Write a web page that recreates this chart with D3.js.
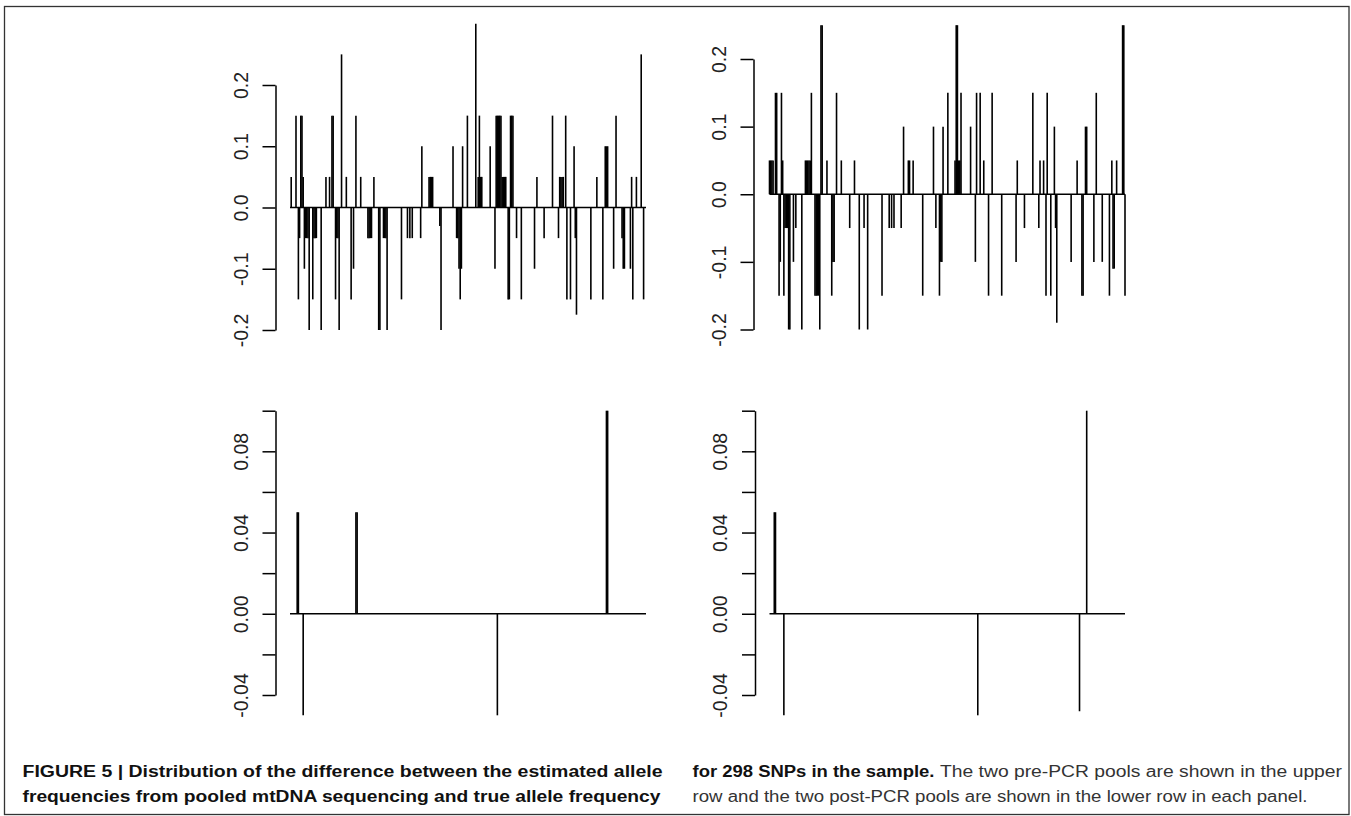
<!DOCTYPE html>
<html>
<head>
<meta charset="utf-8">
<script src="https://cdn.jsdelivr.net/npm/d3@7"></script>
<style>
  body { margin: 0; background: #fff; }
  .bar, .base { stroke: #000; stroke-width: 1.6; }
  .axis path, .axis line { stroke: #000; stroke-width: 1.5; fill: none; }
  .axis text { font-family: "Liberation Sans", Arial, sans-serif; font-size: 19.5px; fill: #222; }
  .cap { font-family: "Liberation Sans", Arial, sans-serif; font-size: 16px; }
</style>
</head>
<body>
<svg id="fig" width="1351" height="816"></svg>
<script>
// number of SNPs on the x axis
var nSnp = 298;

// pre-PCR pool 1 (upper left): SNP index, difference in allele frequency
var preIdx1 = [2, 6, 8, 9, 10, 11, 12, 13, 14, 15, 16, 17, 20, 21, 22, 23, 27, 31, 34, 36, 37, 39, 40, 41, 42, 44,
  48, 52, 54, 56, 60, 66, 67, 68, 69, 71, 75, 76, 79, 80, 81, 82, 94, 99, 101, 103, 110, 111, 117, 118, 119, 120,
  126, 127, 137, 140, 141, 142, 143, 144, 145, 149, 156, 158, 159, 160, 161, 168, 172, 173, 174, 175, 176, 177,
  178, 179, 180, 181, 183, 184, 185, 186, 187, 190, 194, 205, 207, 213, 220, 225, 226, 227, 228, 229, 231, 232,
  235, 238, 239, 240, 252, 257, 262, 264, 265, 266, 271, 273, 278, 279, 280, 285, 286, 287, 290, 294, 296];
var preVal1 = [0.05, 0.15, -0.15, -0.05, 0.15, 0.15, 0.05, -0.1, -0.05, -0.05, -0.05, -0.2, -0.15, -0.05, -0.05, -0.05, -0.2, 0.05, 0.05, 0.15, 0.15, -0.15, -0.05, -0.05, -0.2, 0.25,
  0.05, -0.15, -0.1, 0.15, 0.05, -0.05, -0.05, -0.05, -0.05, 0.05, -0.2, -0.2, -0.05, -0.05, -0.05, -0.2, -0.15, -0.05, -0.05, -0.05, -0.05, 0.1, 0.05, 0.05, 0.05, 0.05,
  -0.03, -0.2, 0.1, -0.05, -0.05, -0.1, -0.15, -0.1, 0.1, 0.15, 0.3, 0.05, 0.15, 0.05, 0.05, 0.1, -0.1, 0.15, 0.15, 0.15, 0.15, 0.15,
  0.05, 0.05, 0.05, 0.05, -0.15, -0.15, 0.15, 0.15, 0.15, -0.05, -0.15, -0.1, 0.05, -0.05, 0.15, -0.05, 0.05, 0.05, 0.05, 0.05, 0.15, -0.15,
  -0.15, 0.1, -0.05, -0.175, -0.15, 0.05, -0.15, 0.1, 0.1, 0.1, -0.1, 0.15, -0.05, -0.1, -0.1, -0.1, 0.05, -0.15, 0.05, 0.25, -0.15];

// pre-PCR pool 2 (upper right)
var preIdx2 = [1, 2, 3, 4, 6, 7, 9, 10, 11, 12, 13, 14, 15, 16, 17, 18, 21, 23, 28, 31, 32, 33, 34, 35, 36,
  39, 40, 41, 42, 43, 44, 45, 49, 53, 54, 55, 57, 61, 68, 72, 76, 80, 83, 95, 101, 103, 105, 111, 113, 117, 118,
  121, 129, 138, 140, 143, 144, 145, 146, 150, 156, 157, 158, 159, 160, 161, 169, 173, 174, 177, 180, 184, 187,
  195, 207, 208, 214, 221, 226, 227, 230, 232, 233, 236, 239, 240, 241, 253, 258, 262, 263, 265, 266, 272, 274,
  279, 285, 287, 288, 289, 291, 296, 297, 298];
var preVal2 = [0.05, 0.05, 0.05, 0.05, 0.15, 0.15, -0.15, -0.1, 0.15, 0.05, -0.15, -0.05, -0.05, -0.05, -0.2, -0.2, -0.1, -0.05, -0.2, 0.05, 0.05, 0.05, 0.05, 0.05, 0.15,
  -0.15, -0.15, -0.15, -0.15, -0.2, 0.25, 0.25, 0.05, -0.15, -0.1, -0.1, 0.15, 0.05, -0.05, 0.05, -0.2, -0.05, -0.2, -0.15, -0.05, -0.05, -0.05, -0.05, 0.1, 0.05, 0.05,
  0.05, -0.15, 0.1, -0.05, -0.15, -0.1, -0.1, 0.1, 0.15, 0.05, 0.25, 0.25, 0.05, 0.05, 0.15, 0.1, -0.1, 0.15, 0.15, 0.05, -0.15, 0.15,
  -0.15, -0.1, 0.05, -0.05, 0.15, -0.05, 0.05, 0.05, -0.15, 0.15, -0.15, 0.1, -0.05, -0.19, -0.1, 0.05, -0.15, -0.15, 0.1, 0.1, -0.1, 0.15,
  -0.1, -0.15, 0.05, -0.11, -0.11, 0.05, 0.25, 0.25, -0.15];

// post-PCR pools (lower row)
var postIdx1 = [7, 8, 12, 56, 57, 174, 265, 266];
var postVal1 = [0.05, 0.05, -0.05, 0.05, 0.05, -0.05, 0.1, 0.1];
var postIdx2 = [5, 6, 13, 175, 260, 266];
var postVal2 = [0.05, 0.05, -0.05, -0.05, -0.048, 0.1];

// y axis ticks
var upperTicks = [-0.2, -0.1, 0, 0.1, 0.2];
var upperLabels = [-0.2, -0.1, 0, 0.1, 0.2];
var lowerTicks = [-0.04, -0.02, 0, 0.02, 0.04, 0.06, 0.08, 0.1];
var lowerLabels = [-0.04, 0, 0.04, 0.08];

// caption
var capLeft1 = "FIGURE 5 | Distribution of the difference between the estimated allele";
var capLeft2 = "frequencies from pooled mtDNA sequencing and true allele frequency";
var capRightBold = "for 298 SNPs in the sample.";
var capRight1 = "The two pre-PCR pools are shown in the upper";
var capRight2 = "row and the two post-PCR pools are shown in the lower row in each panel.";

var locale = d3.formatLocale({decimal: ".", thousands: ",", grouping: [3], currency: ["", ""], minus: "-"});
var fmt1 = locale.format(".1f");
var fmt2 = locale.format(".2f");

var svg = d3.select("#fig");

// frame round the whole figure
svg.append("rect")
  .attr("x", 4.5).attr("y", 6.5)
  .attr("width", 1344.5).attr("height", 808)
  .attr("fill", "none")
  .attr("stroke", "#333")
  .attr("stroke-width", 1.3);

function draw_panel(idx, val, ticks, labels, fmt, box)
{
  var xScale = d3.scaleLinear()
    .domain([1, nSnp])
    .range([box.x0, box.x1]);

  var yScale = d3.scaleLinear()
    .domain(box.dom)
    .range([box.yBot, box.yTop]);

  // y axis, R style: labels turned to read upwards
  var g = svg.append("g")
    .attr("class", "axis")
    .attr("transform", "translate(" + box.axisX + ",0)")
    .call(d3.axisLeft(yScale)
      .tickValues(ticks)
      .tickSize(13)
      .tickSizeOuter(0)
      .tickFormat(function(d) { return labels.indexOf(d) >= 0 ? fmt(d) : ""; }));

  g.selectAll(".tick text")
    .attr("x", 0)
    .attr("dy", 0)
    .attr("text-anchor", "middle")
    .attr("transform", "translate(-28,0) rotate(-90)");

  // zero line over the SNP range
  svg.append("line")
    .attr("class", "base")
    .attr("x1", xScale(1)).attr("x2", xScale(nSnp))
    .attr("y1", yScale(0)).attr("y2", yScale(0));

  // type "h" bars
  svg.append("g").selectAll("line")
    .data(d3.range(idx.length))
    .enter().append("line")
    .attr("class", "bar")
    .attr("x1", function(i) { return xScale(idx[i]); })
    .attr("x2", function(i) { return xScale(idx[i]); })
    .attr("y1", yScale(0))
    .attr("y2", function(i) { return yScale(val[i]); });
}

draw_panel(preIdx1, preVal1, upperTicks, upperLabels, fmt1,
  {x0: 290, x1: 646, yTop: 85, yBot: 330, axisX: 275.5, dom: [-0.2, 0.2]});
draw_panel(preIdx2, preVal2, upperTicks, upperLabels, fmt1,
  {x0: 769.5, x1: 1125, yTop: 59, yBot: 329.5, axisX: 753.5, dom: [-0.2, 0.2]});
draw_panel(postIdx1, postVal1, lowerTicks, lowerLabels, fmt2,
  {x0: 290, x1: 646, yTop: 410.7, yBot: 695, axisX: 275.5, dom: [-0.04, 0.1]});
draw_panel(postIdx2, postVal2, lowerTicks, lowerLabels, fmt2,
  {x0: 769.5, x1: 1125, yTop: 410.7, yBot: 695, axisX: 755, dom: [-0.04, 0.1]});

// caption text
function cap(str, x, y, w, bold)
{
  svg.append("text")
    .attr("class", "cap")
    .attr("x", x).attr("y", y)
    .attr("textLength", w)
    .attr("lengthAdjust", "spacingAndGlyphs")
    .attr("font-weight", bold ? "bold" : "normal")
    .attr("fill", bold ? "#111" : "#333")
    .text(str);
}

cap(capLeft1, 22.5, 777, 640, true);
cap(capLeft2, 22.5, 801.5, 638, true);
cap(capRightBold, 692.5, 777, 242, true);
cap(capRight1, 940, 777, 402, false);
cap(capRight2, 692.5, 801.5, 615, false);
</script>
</body>
</html>
